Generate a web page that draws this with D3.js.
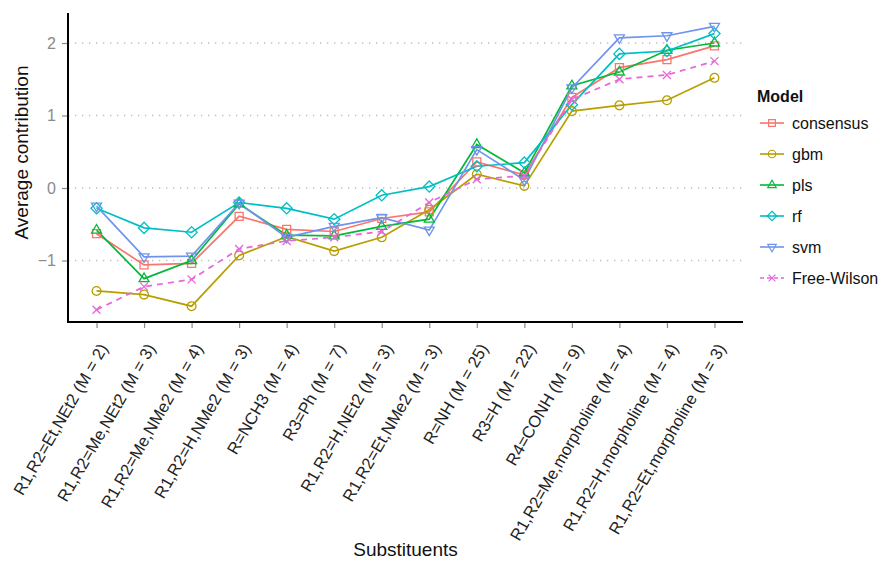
<!DOCTYPE html>
<html>
<head>
<meta charset="utf-8">
<script src="https://cdn.jsdelivr.net/npm/d3@7"></script>
<style>
  html, body { margin: 0; padding: 0; background: #fff; }
  svg { display: block; font-family: "Liberation Sans", Arial, sans-serif; }
</style>
</head>
<body>
<svg id="chart" width="882" height="561"></svg>
<script>
// Substituent categories along the x axis
const categories = [
  "R1,R2=Et,NEt2 (M = 2)",
  "R1,R2=Me,NEt2 (M = 3)",
  "R1,R2=Me,NMe2 (M = 4)",
  "R1,R2=H,NMe2 (M = 3)",
  "R=NCH3 (M = 4)",
  "R3=Ph (M = 7)",
  "R1,R2=H,NEt2 (M = 3)",
  "R1,R2=Et,NMe2 (M = 3)",
  "R=NH (M = 25)",
  "R3=H (M = 22)",
  "R4=CONH (M = 9)",
  "R1,R2=Me,morpholine (M = 4)",
  "R1,R2=H,morpholine (M = 4)",
  "R1,R2=Et,morpholine (M = 3)"
];

// Average contribution per model
const consensus = [-0.63, -1.06, -1.04, -0.39, -0.57, -0.60, -0.42, -0.33, 0.36, 0.18, 1.25, 1.66, 1.77, 1.96];
const gbm       = [-1.42, -1.47, -1.63, -0.93, -0.67, -0.87, -0.68, -0.30, 0.19, 0.03, 1.06, 1.14, 1.21, 1.52];
const pls       = [-0.58, -1.25, -1.00, -0.22, -0.65, -0.66, -0.53, -0.43, 0.60, 0.21, 1.41, 1.60, 1.90, 2.00];
const rf        = [-0.28, -0.55, -0.61, -0.20, -0.28, -0.43, -0.10, 0.02, 0.30, 0.35, 1.15, 1.85, 1.89, 2.13];
const svm       = [-0.25, -0.95, -0.94, -0.21, -0.68, -0.53, -0.41, -0.58, 0.53, 0.11, 1.38, 2.07, 2.10, 2.23];
const freeWilson = [-1.68, -1.36, -1.26, -0.84, -0.73, -0.68, -0.60, -0.20, 0.12, 0.17, 1.22, 1.50, 1.56, 1.75];

const yTicks = [-1, 0, 1, 2];

const models = [
  { name: "consensus",  values: consensus,  color: "#F8766D", shape: "square",   dash: null },
  { name: "gbm",        values: gbm,        color: "#B79F00", shape: "circle",   dash: null },
  { name: "pls",        values: pls,        color: "#00BA38", shape: "triangle", dash: null },
  { name: "rf",         values: rf,         color: "#00BFC4", shape: "diamond",  dash: null },
  { name: "svm",        values: svm,        color: "#6F94EC", shape: "triDown",  dash: null },
  { name: "Free-Wilson", values: freeWilson, color: "#E766D8", shape: "cross",   dash: "6,5" }
];

const svg = d3.select("#chart");
const plotLeft = 68, plotRight = 743, plotTop = 13, plotBottom = 322;

const x = d3.scalePoint().domain(categories).range([plotLeft, plotRight]).padding(0.6);
const y = d3.scaleLinear().domain([-1.848, 2.414]).range([plotBottom, plotTop]);

// Horizontal dotted grid lines
svg.append("g").selectAll("line").data(yTicks).join("line")
  .attr("x1", plotLeft).attr("x2", plotRight)
  .attr("y1", d => y(d)).attr("y2", d => y(d))
  .attr("stroke", "#bdbdbd").attr("stroke-width", 1.3)
  .attr("stroke-dasharray", "1.3,5.7");

// Y axis
const yAxis = svg.append("g").attr("transform", `translate(${plotLeft},0)`)
  .call(d3.axisLeft(y).tickValues(yTicks).tickFormat(d3.format("d")).tickSize(6).tickPadding(6));
yAxis.select(".domain").remove();
yAxis.selectAll(".tick line").attr("stroke", "#8a8a8a").attr("stroke-width", 1.2);
yAxis.selectAll(".tick text").attr("fill", "#8a8a8a").attr("font-size", 16)
  .attr("font-family", "Liberation Sans, Arial, sans-serif");

// X axis
const xAxis = svg.append("g").attr("transform", `translate(0,${plotBottom})`)
  .call(d3.axisBottom(x).tickSize(6).tickPadding(0));
xAxis.select(".domain").remove();
xAxis.selectAll(".tick line").attr("stroke", "#8a8a8a").attr("stroke-width", 1.2);
xAxis.selectAll(".tick text")
  .attr("fill", "#222").attr("font-size", 16.6)
  .attr("font-family", "Liberation Sans, Arial, sans-serif")
  .attr("text-anchor", "end")
  .attr("y", 0).attr("dy", 0)
  .attr("transform", "translate(1,20) rotate(-60)")
  .attr("dominant-baseline", "hanging");

// Axis lines
svg.append("line").attr("x1", plotLeft).attr("x2", plotLeft).attr("y1", plotTop).attr("y2", plotBottom + 1)
  .attr("stroke", "#000").attr("stroke-width", 2);
svg.append("line").attr("x1", plotLeft - 1).attr("x2", plotRight).attr("y1", plotBottom).attr("y2", plotBottom)
  .attr("stroke", "#000").attr("stroke-width", 2);

// Marker shapes
function shapePath(shape) {
  switch (shape) {
    case "square":   return "M-4,-4H4V4H-4Z";
    case "circle":   return d3.arc()({ innerRadius: 0, outerRadius: 4.4, startAngle: 0, endAngle: 2 * Math.PI });
    case "triangle": return "M0,-5.6L5,3L-5,3Z";
    case "diamond":  return "M0,-5.6L5.6,0L0,5.6L-5.6,0Z";
    case "triDown":  return "M0,5.6L5,-3L-5,-3Z";
    case "cross":    return "M-4,-4L4,4M-4,4L4,-4";
  }
}

const line = d3.line().x((d, i) => x(categories[i])).y(d => y(d));

const series = svg.append("g");
models.forEach(m => {
  series.append("path").datum(m.values)
    .attr("d", line)
    .attr("fill", "none")
    .attr("stroke", m.color)
    .attr("stroke-width", 1.7)
    .attr("stroke-dasharray", m.dash);
});
models.forEach(m => {
  series.append("g").selectAll("path").data(m.values).join("path")
    .attr("transform", (d, i) => `translate(${x(categories[i])},${y(d)})`)
    .attr("d", shapePath(m.shape))
    .attr("fill", "none")
    .attr("stroke", m.color)
    .attr("stroke-width", 1.3);
});

// Axis titles
svg.append("text").attr("x", (plotLeft + plotRight) / 2).attr("y", 556)
  .attr("text-anchor", "middle").attr("font-size", 19).attr("fill", "#111")
  .text("Substituents");
svg.append("text")
  .attr("transform", `translate(28,${(plotTop + plotBottom) / 2 - 15}) rotate(-90)`)
  .attr("text-anchor", "middle").attr("font-size", 19).attr("fill", "#111")
  .text("Average contribution");

// Legend
const legend = svg.append("g").attr("transform", "translate(757,0)");
legend.append("text").attr("x", 0).attr("y", 102)
  .attr("font-size", 16).attr("font-weight", "bold").attr("fill", "#111")
  .text("Model");
const legendY = d3.scalePoint().domain(models.map(m => m.name)).range([123, 278]);
models.forEach(m => {
  const g = legend.append("g").attr("transform", `translate(0,${legendY(m.name)})`);
  g.append("line").attr("x1", 3).attr("x2", 27).attr("y1", 0).attr("y2", 0)
    .attr("stroke", m.color).attr("stroke-width", 1.6)
    .attr("stroke-dasharray", m.dash ? "4,3" : null);
  g.append("path").attr("transform", "translate(15,0) scale(0.85)")
    .attr("d", shapePath(m.shape)).attr("fill", "none")
    .attr("stroke", m.color).attr("stroke-width", 1.4);
  g.append("text").attr("x", 35).attr("y", 0).attr("dy", "0.35em")
    .attr("font-size", 16).attr("fill", "#111").text(m.name);
});
</script>
</body>
</html>
